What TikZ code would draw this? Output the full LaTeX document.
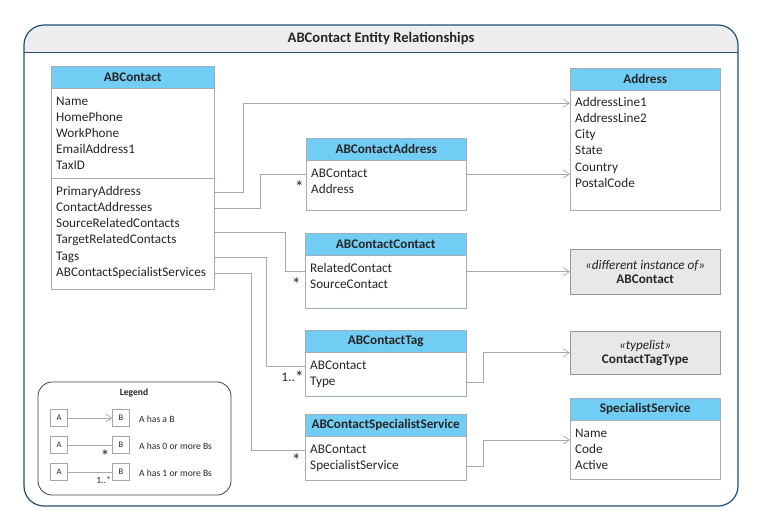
\documentclass[tikz,border=0pt]{standalone}
\usepackage{fontspec}
\setmainfont{Carlito}
\usetikzlibrary{arrows.meta,calc}
\definecolor{hdrblue}{HTML}{72CDF4}
\definecolor{boxln}{HTML}{A3AEB8}
\definecolor{lnk}{HTML}{A8A8A8}
\definecolor{frm}{HTML}{1F4E6E}
\definecolor{hdrgray}{HTML}{EEEEF0}
\definecolor{stgray}{HTML}{E8E8EA}
\definecolor{txt}{HTML}{262626}
\newcommand{\attrfont}{\fontsize{13.2}{15}\selectfont}
\newcommand{\legfont}{\fontsize{9.6}{11}\selectfont}

\tikzset{
  hdr/.style={draw=boxln, fill=hdrblue, anchor=north west, inner sep=0pt,
    minimum height=22pt, font=\attrfont\bfseries, text=txt},
  body/.style={draw=boxln, fill=white, anchor=north west, inner sep=0pt},
  attr/.style={anchor=west, inner sep=0pt, text height=9pt, text depth=3pt,
    yshift=-1pt, font=\attrfont, text=txt},
  stereo/.style={draw=gray!80, fill=stgray, anchor=north west, inner sep=0pt,
    minimum width=150pt, align=center, font=\attrfont, text=txt},
  link/.style={draw=lnk, line width=0.7pt},
  has/.style={link, -{Straight Barb[length=6pt,width=8pt,line width=0.7pt]}},
  mult/.style={inner sep=0pt, font=\fontsize{18}{18}\selectfont, text=txt},
  lbox/.style={draw=gray!70, minimum size=17pt, inner sep=0pt,
    font=\fontsize{8.5}{9}\selectfont, text=txt},
  ltext/.style={anchor=west, inner sep=0pt, font=\legfont, text=txt}
}

\begin{document}
\begin{tikzpicture}[x=1pt,y=-1pt]
  \useasboundingbox (0,0) rectangle (763,531);

  % frame with title band
  \fill[hdrgray] (24,52) [rounded corners=20pt] -- (24,25) -- (738,25) [sharp corners] -- (738,52) -- cycle;
  \draw[frm, line width=1.2pt, rounded corners=20pt] (24,25) rectangle (738,506);
  \draw[frm, line width=1pt] (24,52) -- (738,52);
  \node[font=\fontsize{14.6}{16}\selectfont\bfseries, text=txt] (ttl) at (381,39) {ABContact Entity Relationships};

  % ABContact
  \node[hdr, minimum width=163pt] (abcH) at (51,66) {ABContact};
  \node[body, minimum width=163pt, minimum height=90pt] (abcB1) at (51,88) {};
  \node[body, minimum width=163pt, minimum height=111pt] (abcB2) at (51,178) {};
  \foreach \t [count=\i] in {Name,HomePhone,WorkPhone,EmailAddress1,TaxID}
    \node[attr] (abc-\i) at (56,85+16*\i) {\t};
  \foreach \t [count=\i] in {PrimaryAddress,ContactAddresses,SourceRelatedContacts,
      TargetRelatedContacts,Tags,ABContactSpecialistServices}
    \node[attr] (ref-\i) at (56,175+16.2*\i) {\t};

  % Address
  \node[hdr, minimum width=150pt] (addrH) at (570,68) {Address};
  \node[body, minimum width=150pt, minimum height=120pt] (addrB) at (570,90) {};
  \foreach \t [count=\i] in {AddressLine1,AddressLine2,City,State,Country,PostalCode}
    \node[attr] (addr-\i) at (575,86+16.2*\i) {\t};

  % link classes
  \node[hdr, minimum width=160pt] (aaH) at (306,138) {ABContactAddress};
  \node[body, minimum width=160pt, minimum height=50pt] (aaB) at (306,160) {};
  \node[attr] (aa-1) at (311,173) {ABContact};
  \node[attr] (aa-2) at (311,189) {Address};

  \node[hdr, minimum width=161pt] (acH) at (305,233) {ABContactContact};
  \node[body, minimum width=161pt, minimum height=53pt] (acB) at (305,255) {};
  \node[attr] (ac-1) at (310,268) {RelatedContact};
  \node[attr] (ac-2) at (310,284) {SourceContact};

  \node[hdr, minimum width=161pt] (atH) at (305,330) {ABContactTag};
  \node[body, minimum width=161pt, minimum height=44pt] (atB) at (305,352) {};
  \node[attr] (at-1) at (310,365) {ABContact};
  \node[attr] (at-2) at (310,381) {Type};

  \node[hdr, minimum width=161pt] (asH) at (305,414) {ABContactSpecialistService};
  \node[body, minimum width=161pt, minimum height=44pt] (asB) at (305,436) {};
  \node[attr] (as-1) at (310,449) {ABContact};
  \node[attr] (as-2) at (310,465) {SpecialistService};

  % targets on the right
  \node[stereo, minimum height=45pt] (diff) at (570,249)
    {\textit{«different instance of»}\\[-1pt]\textbf{ABContact}};
  \node[stereo, minimum height=43pt] (tl) at (570,331)
    {\textit{«typelist»}\\[-1pt]\textbf{ContactTagType}};

  \node[hdr, minimum width=150pt] (ssH) at (570,398) {SpecialistService};
  \node[body, minimum width=150pt, minimum height=59pt] (ssB) at (570,420) {};
  \node[attr] (ss-1) at (575,433) {Name};
  \node[attr] (ss-2) at (575,449) {Code};
  \node[attr] (ss-3) at (575,465) {Active};

  % connectors from ABContact
  \coordinate (rc) at ($(ref-3.west)!.5!(ref-4.west)$);
  \draw[has] (abcB2.east |- ref-1) -- ++(29,0) |- (addrB.west |- addr-1);
  \draw[link] (abcB2.east |- ref-2) -- ++(46,0) |- (aaB.west |- aa-1);
  \draw[link] (abcB2.east |- rc) -- ++(71,0) |- (acB.west |- diff.west);
  \draw[link] (abcB2.east |- ref-5) -- ++(52,0) |- (atB.west |- at-1);
  \draw[link] (abcB2.east |- ref-6) -- ++(37,0) |- (asB.west |- as-1);

  \node[mult, anchor=east] (m-aa) at (304,187) {*};
  \node[mult, anchor=east] (m-ac) at (301,284) {*};
  \node[mult, anchor=east, font=\attrfont] (m-at) at (304,377) {1..\raisebox{-1.5pt}{\fontsize{18}{18}\selectfont*}};
  \node[mult, anchor=east] (m-as) at (301,460) {*};

  % connectors to the right column
  \draw[has] (aaB.east |- aa-1) -- (addrB.west |- aa-1);
  \draw[has] (acB.east |- diff.west) -- (diff.west);
  \draw[has] (atB.east |- at-2) -- ++(17,0) |- (tl.west);
  \draw[has] (asB.east |- as-2) -- ++(17,0) |- ([yshift=-20pt]ssB.north west);

  % legend
  \draw[draw=black!75, line width=0.8pt, rounded corners=14pt] (38,382) rectangle (231,495);
  \node[font=\legfont\bfseries, text=txt] (leg) at (134,393) {Legend};
  \foreach \y [count=\i] in {418,445,472} {
    \node[lbox] (la-\i) at (59,\y) {A};
    \node[lbox] (lb-\i) at (121,\y) {B};
  }
  \draw[has] (la-1) -- (lb-1);
  \draw[link] (la-2) -- (lb-2);
  \draw[link] (la-3) -- (lb-3);
  \node[mult] (ls-2) at (105,456) {*};
  \node[mult, anchor=east, font=\legfont] (ls-3) at (111,480) {1..*};
  \node[ltext] (lt-1) at (139,419) {A has a B};
  \node[ltext] (lt-2) at (139,446) {A has 0 or more Bs};
  \node[ltext] (lt-3) at (139,473) {A has 1 or more Bs};
\end{tikzpicture}
\end{document}
